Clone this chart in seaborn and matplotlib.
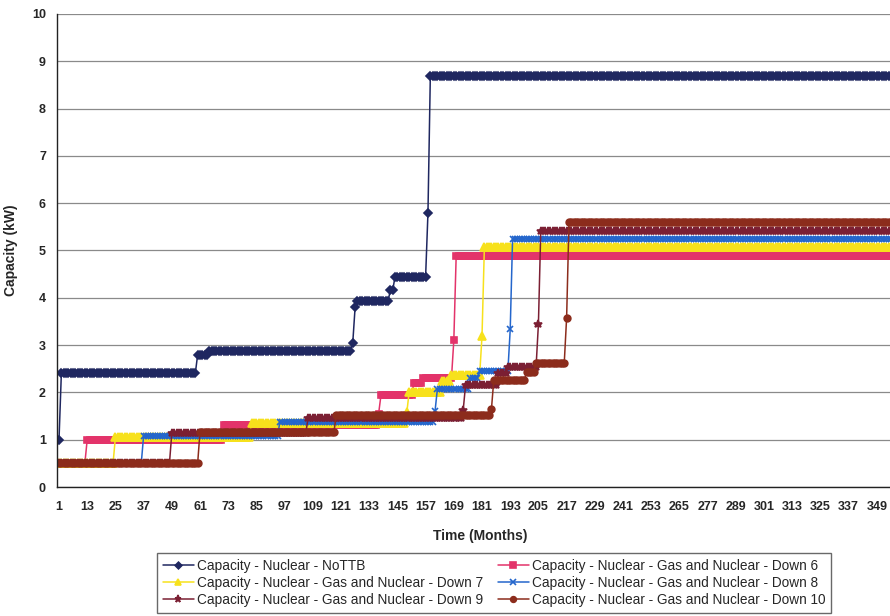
import numpy as np
import pandas as pd
import matplotlib
matplotlib.use("Agg")
import matplotlib.pyplot as plt
from matplotlib.ticker import FixedLocator, MultipleLocator
import seaborn as sns

# Monthly time axis (months 1..360)
MONTHS = np.arange(1, 361)
TICK_MONTHS = list(range(1, 361, 12))

SERIES_NAMES = [
    "Capacity - Nuclear - NoTTB",
    "Capacity - Nuclear - Gas and Nuclear - Down 6",
    "Capacity - Nuclear - Gas and Nuclear - Down 7",
    "Capacity - Nuclear - Gas and Nuclear - Down 8",
    "Capacity - Nuclear - Gas and Nuclear - Down 9",
    "Capacity - Nuclear - Gas and Nuclear - Down 10",
]

# Each series is a step profile: first month of each level and the level (kW)
NOTTB_START = [1, 2, 60, 65, 126, 127, 128, 142, 144, 158, 159]
NOTTB_LEVEL = [1.0, 2.4, 2.8, 2.87, 3.05, 3.8, 3.93, 4.16, 4.45, 5.8, 8.68]

DOWN6_START = [1, 13, 71, 137, 138, 152, 156, 169, 170]
DOWN6_LEVEL = [0.5, 1.0, 1.31, 1.55, 1.94, 2.19, 2.30, 3.10, 4.88]

DOWN7_START = [1, 25, 83, 149, 150, 164, 168, 181, 182]
DOWN7_LEVEL = [0.5, 1.05, 1.35, 1.58, 2.01, 2.25, 2.37, 3.20, 5.07]

DOWN8_START = [1, 37, 95, 161, 162, 176, 180, 193, 194]
DOWN8_LEVEL = [0.5, 1.08, 1.38, 1.60, 2.07, 2.30, 2.45, 3.33, 5.25]

DOWN9_START = [1, 49, 107, 173, 174, 188, 192, 205, 206]
DOWN9_LEVEL = [0.5, 1.14, 1.46, 1.63, 2.16, 2.40, 2.54, 3.45, 5.42]

DOWN10_START = [1, 61, 119, 185, 186, 200, 204, 217, 218]
DOWN10_LEVEL = [0.5, 1.17, 1.52, 1.64, 2.26, 2.44, 2.63, 3.58, 5.60]

COLORS = ["#1f2760", "#e3336a", "#f7e11c", "#2466cc", "#7b1f33", "#8c2c1c"]
MARKERS = ["D", "s", "^", "x", "*", "o"]
MSIZES = [4.0, 4.8, 5.2, 4.8, 6.2, 4.8]


def expand(starts, levels):
    bounds = list(starts) + [MONTHS[-1] + 1]
    return np.repeat(levels, np.diff(bounds))


profiles = [
    (NOTTB_START, NOTTB_LEVEL),
    (DOWN6_START, DOWN6_LEVEL),
    (DOWN7_START, DOWN7_LEVEL),
    (DOWN8_START, DOWN8_LEVEL),
    (DOWN9_START, DOWN9_LEVEL),
    (DOWN10_START, DOWN10_LEVEL),
]

frames = []
for name, (st, lv) in zip(SERIES_NAMES, profiles):
    frames.append(pd.DataFrame({"Month": MONTHS, "Capacity": expand(st, lv), "Series": name}))
df = pd.concat(frames, ignore_index=True)

sns.set_style("white")
plt.rcParams["font.family"] = ["Liberation Sans", "DejaVu Sans"]

fig = plt.figure(figsize=(8.9, 6.16), dpi=100)
ax = fig.add_axes([57 / 890, (616 - 487) / 616, 1 - 57 / 890, (487 - 14) / 616])

for name, color, mk, ms in zip(SERIES_NAMES, COLORS, MARKERS, MSIZES):
    sub = df[df["Series"] == name]
    sns.lineplot(
        data=sub, x="Month", y="Capacity", ax=ax, color=color,
        marker=mk, markersize=ms, markeredgecolor=color, markeredgewidth=1.2,
        linewidth=1.1, estimator=None, sort=False, label=name, legend=False,
    )

ax.set_xlim(0.15, 354.6)
ax.set_ylim(0, 10)
ax.yaxis.set_major_locator(MultipleLocator(1))
ax.xaxis.set_major_locator(FixedLocator(TICK_MONTHS))
ax.xaxis.set_minor_locator(MultipleLocator(1))
ax.set_xticklabels([str(m) for m in TICK_MONTHS])

ax.grid(False)
ax.yaxis.grid(True, color="#8a8a8a", linewidth=0.9)
ax.set_axisbelow(True)

for s in ["top", "right"]:
    ax.spines[s].set_visible(False)
for s in ["left", "bottom"]:
    ax.spines[s].set_color("#222222")
    ax.spines[s].set_linewidth(1.0)

ax.tick_params(axis="y", which="major", direction="out", length=4, width=0.9,
               color="#222222", pad=4, labelsize=9)
ax.tick_params(axis="x", which="major", direction="out", length=4, width=0.7,
               color="#222222", pad=6, labelsize=9)
ax.tick_params(axis="x", which="minor", direction="out", length=3.5, width=0.5,
               color="#444444")
for lab in ax.get_xticklabels() + ax.get_yticklabels():
    lab.set_fontweight("bold")

ax.set_xlabel("Time (Months)", fontsize=10, fontweight="bold", labelpad=6)
ax.set_ylabel("Capacity (kW)", fontsize=10, fontweight="bold", labelpad=10)
ax.xaxis.set_label_coords((480 - 57) / 833, -(529 - 487) / 473)
ax.yaxis.set_label_coords(-(57 - 18) / 833, 0.5)

lines = ax.get_lines()
order = [0, 2, 4, 1, 3, 5]
leg = fig.legend(
    [lines[i] for i in order], [SERIES_NAMES[i] for i in order],
    loc="center", bbox_to_anchor=(494 / 890, 1 - 583 / 616),
    ncol=2, fontsize=9.8, frameon=True, fancybox=False, shadow=False,
    handlelength=2.3, handletextpad=0.2, columnspacing=1.1,
    labelspacing=0.22, borderpad=0.45, numpoints=1, markerscale=0.85,
)
leg.get_frame().set_edgecolor("#444444")
leg.get_frame().set_linewidth(1.0)

fig.savefig("out.png", dpi=100, facecolor="white")
